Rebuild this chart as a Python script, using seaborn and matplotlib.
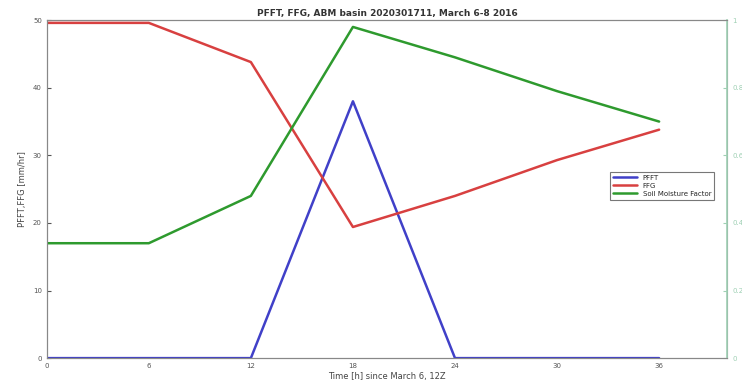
import matplotlib
matplotlib.use("Agg")
import matplotlib.pyplot as plt
import seaborn as sns
import pandas as pd

hours = [0, 6, 12, 18, 24, 30, 36]
pfft = [0, 0, 0, 38, 0, 0, 0]
ffg = [49.6, 49.6, 43.8, 19.4, 24.0, 29.3, 33.8]
soil = [0.34, 0.34, 0.48, 0.98, 0.89, 0.79, 0.70]

sns.set_style("white")
plt.rcParams['font.family'] = ['DejaVu Sans']

fig = plt.figure(figsize=(7.42, 3.88), dpi=100)
ax = fig.add_axes([0.063, 0.077, 0.917, 0.871])
ax2 = ax.twinx()

df = pd.DataFrame({"h": hours, "pfft": pfft, "ffg": ffg, "soil": soil})
sns.lineplot(data=df, x="h", y="pfft", ax=ax, color="#4040c8", lw=1.8, label="PFFT", legend=False)
sns.lineplot(data=df, x="h", y="ffg", ax=ax, color="#d84040", lw=1.8, label="FFG", legend=False)
sns.lineplot(data=df, x="h", y="soil", ax=ax2, color="#2e9a2e", lw=1.8, label="Soil Moisture Factor", legend=False)

ax.set_xlim(0, 40)
ax.set_ylim(0, 50)
ax2.set_ylim(0, 1)
ax.set_xticks([0, 6, 12, 18, 24, 30, 36])
ax.set_yticks([0, 10, 20, 30, 40, 50])
ax2.set_yticks([0, 0.2, 0.4, 0.6, 0.8, 1])
ax2.set_yticklabels(["0", "0.2", "0.4", "0.6", "0.8", "1"])

for a in (ax, ax2):
    for s in a.spines.values():
        s.set_color("#888888")
        s.set_linewidth(0.8)
ax2.spines["right"].set_color("#9fd0b4")
ax2.spines["right"].set_linewidth(1.2)

ax.tick_params(axis="both", labelsize=5, colors="#555555", length=3, direction="in")
ax2.tick_params(axis="y", labelsize=5, colors="#9fd0b4", length=3, direction="in")
ax.set_xlabel("Time [h] since March 6, 12Z", fontsize=6, color="#444444", labelpad=2)
ax.set_ylabel("PFFT,FFG [mm/hr]", fontsize=6, color="#444444", labelpad=4)
ax2.set_ylabel("")
ax.set_title("PFFT, FFG, ABM basin 2020301711, March 6-8 2016", fontsize=6.5,
             fontweight="bold", color="#333333", pad=3)

h1, lab1 = ax.get_legend_handles_labels()
h2, lab2 = ax2.get_legend_handles_labels()
leg = ax.legend(h1 + h2, lab1 + lab2, loc="center right", bbox_to_anchor=(0.986, 0.51),
                fontsize=5, frameon=True, fancybox=False, edgecolor="#555555",
                handlelength=3.5, borderpad=0.4, labelspacing=0.3)
leg.get_frame().set_linewidth(0.8)

fig.savefig("out.png", dpi=100)
